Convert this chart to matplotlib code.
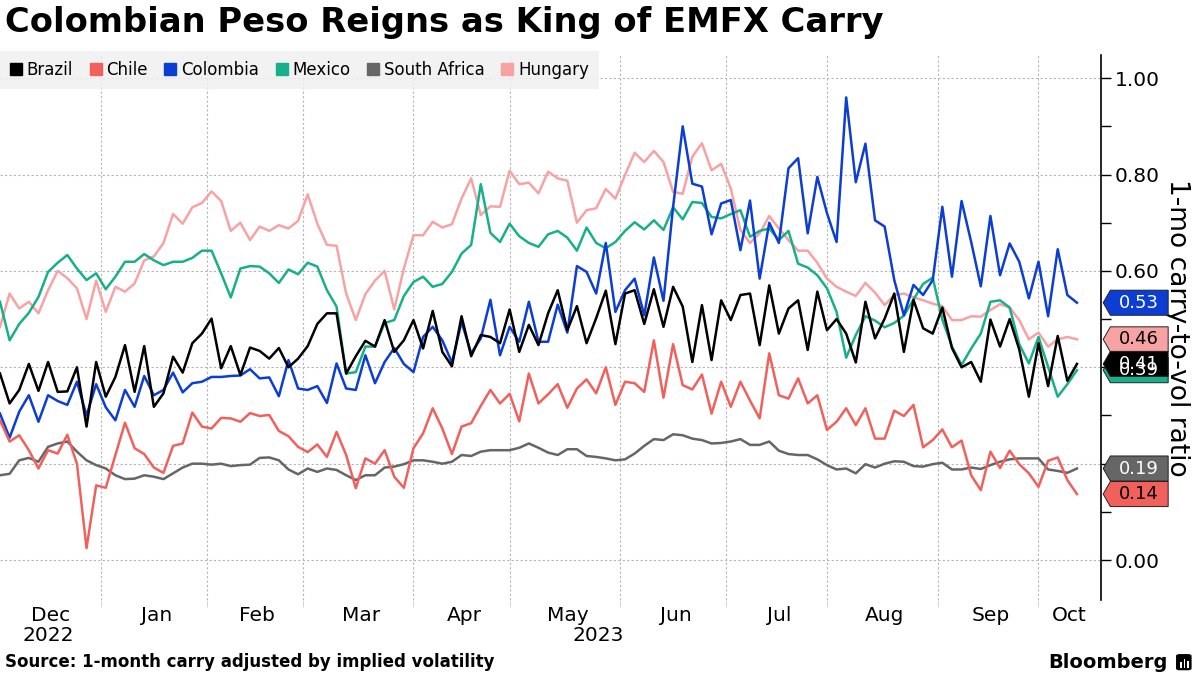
import numpy as np
import pandas as pd
import matplotlib
matplotlib.use("Agg")
import matplotlib.pyplot as plt
import matplotlib.transforms as mtransforms
from matplotlib.lines import Line2D
from matplotlib.patches import Polygon, FancyBboxPatch, Rectangle
from matplotlib.ticker import FormatStrFormatter

# business-day calendar of the chart, values read every second trading day
days = pd.bdate_range("2022-12-01", periods=226)
dates = days[1::2]

brazil = [0.387, 0.325, 0.353, 0.407, 0.351, 0.411, 0.349, 0.35, 0.40, 0.277,
          0.411, 0.339, 0.38, 0.446, 0.349, 0.444, 0.318, 0.346, 0.422, 0.389,
          0.45, 0.47, 0.501, 0.398, 0.444, 0.384, 0.441, 0.434, 0.418, 0.44,
          0.40, 0.418, 0.444, 0.49, 0.512, 0.512, 0.387, 0.423, 0.455,
          0.443, 0.498, 0.432, 0.456, 0.498, 0.439, 0.517, 0.432, 0.402, 0.506,
          0.423, 0.467, 0.463, 0.45, 0.52, 0.432, 0.488, 0.446, 0.512,
          0.56, 0.477, 0.527, 0.45, 0.502, 0.559, 0.448, 0.553, 0.56, 0.49,
          0.562, 0.484, 0.567, 0.526, 0.411, 0.529, 0.415, 0.539,
          0.498, 0.55, 0.553, 0.446, 0.57, 0.47, 0.522, 0.539, 0.436, 0.557,
          0.477, 0.50, 0.47, 0.41, 0.536, 0.46, 0.501, 0.553, 0.432,
          0.54, 0.481, 0.47, 0.524, 0.44, 0.40, 0.411, 0.37, 0.499, 0.443,
          0.50, 0.437, 0.339, 0.45, 0.361, 0.465, 0.372, 0.407]

chile = [0.29, 0.246, 0.259, 0.228, 0.19, 0.228, 0.221, 0.26, 0.20, 0.025,
         0.155, 0.15, 0.218, 0.285, 0.232, 0.22, 0.192, 0.181, 0.237, 0.242,
         0.306, 0.277, 0.273, 0.295, 0.294, 0.287, 0.305, 0.299, 0.301, 0.268,
         0.257, 0.235, 0.224, 0.24, 0.214, 0.266, 0.218, 0.149, 0.211,
         0.2, 0.228, 0.173, 0.15, 0.232, 0.263, 0.315, 0.273, 0.22, 0.277,
         0.284, 0.32, 0.353, 0.325, 0.345, 0.288, 0.387, 0.325, 0.344,
         0.365, 0.316, 0.356, 0.375, 0.346, 0.40, 0.322, 0.37, 0.367, 0.349,
         0.456, 0.337, 0.448, 0.363, 0.354, 0.385, 0.304, 0.37,
         0.318, 0.37, 0.331, 0.294, 0.429, 0.342, 0.335, 0.377, 0.325, 0.342,
         0.27, 0.287, 0.315, 0.28, 0.315, 0.252, 0.252, 0.31, 0.299,
         0.322, 0.234, 0.249, 0.271, 0.234, 0.248, 0.176, 0.145, 0.225, 0.191,
         0.227, 0.199, 0.18, 0.152, 0.206, 0.213, 0.166, 0.137]

colombia = [0.304, 0.254, 0.308, 0.342, 0.287, 0.342, 0.33, 0.322, 0.37, 0.30,
            0.365, 0.317, 0.29, 0.353, 0.318, 0.382, 0.342, 0.353, 0.389, 0.348,
            0.367, 0.37, 0.38, 0.38, 0.382, 0.383, 0.396, 0.377, 0.379, 0.34,
            0.415, 0.356, 0.353, 0.361, 0.326, 0.408, 0.356, 0.353, 0.425,
            0.367, 0.411, 0.44, 0.407, 0.39, 0.463, 0.484, 0.456, 0.41, 0.494,
            0.429, 0.46, 0.54, 0.425, 0.484, 0.453, 0.536, 0.453, 0.453,
            0.53, 0.472, 0.61, 0.598, 0.553, 0.658, 0.515, 0.56, 0.584, 0.508,
            0.628, 0.538, 0.733, 0.90, 0.781, 0.775, 0.676, 0.74,
            0.747, 0.643, 0.746, 0.584, 0.70, 0.658, 0.813, 0.834, 0.678, 0.795,
            0.72, 0.66, 0.96, 0.784, 0.864, 0.705, 0.692, 0.581, 0.508,
            0.571, 0.55, 0.581, 0.733, 0.588, 0.745, 0.66, 0.568, 0.714, 0.591,
            0.657, 0.619, 0.543, 0.619, 0.506, 0.645, 0.55, 0.534]

mexico = [0.536, 0.456, 0.49, 0.513, 0.546, 0.598, 0.617, 0.633, 0.605, 0.581,
          0.595, 0.562, 0.588, 0.619, 0.619, 0.635, 0.622, 0.612, 0.619, 0.619,
          0.627, 0.642, 0.642, 0.595, 0.545, 0.605, 0.61, 0.609, 0.595, 0.575,
          0.603, 0.593, 0.617, 0.609, 0.56, 0.526, 0.387, 0.39, 0.443,
          0.443, 0.492, 0.498, 0.548, 0.577, 0.588, 0.567, 0.573, 0.598, 0.636,
          0.654, 0.78, 0.679, 0.66, 0.698, 0.672, 0.658, 0.65, 0.676,
          0.683, 0.669, 0.642, 0.69, 0.658, 0.647, 0.66, 0.683, 0.701, 0.686,
          0.705, 0.685, 0.732, 0.707, 0.743, 0.741, 0.712, 0.709,
          0.718, 0.726, 0.671, 0.683, 0.688, 0.664, 0.683, 0.615, 0.607, 0.591,
          0.564, 0.515, 0.42, 0.467, 0.506, 0.497, 0.483, 0.492, 0.507,
          0.541, 0.573, 0.586, 0.499, 0.443, 0.405, 0.439, 0.47, 0.536, 0.539,
          0.524, 0.448, 0.408, 0.463, 0.401, 0.339, 0.365, 0.394]

south_africa = [0.176, 0.179, 0.207, 0.212, 0.204, 0.235, 0.242, 0.246, 0.225, 0.207,
                0.197, 0.19, 0.176, 0.168, 0.169, 0.176, 0.173, 0.168, 0.18, 0.192,
                0.2, 0.2, 0.198, 0.2, 0.195, 0.197, 0.198, 0.212, 0.213, 0.207,
                0.188, 0.178, 0.19, 0.183, 0.19, 0.187, 0.176, 0.166, 0.176,
                0.176, 0.192, 0.194, 0.199, 0.207, 0.207, 0.204, 0.2, 0.204, 0.218,
                0.216, 0.225, 0.228, 0.228, 0.228, 0.233, 0.242, 0.233, 0.223,
                0.218, 0.23, 0.23, 0.216, 0.214, 0.211, 0.207, 0.209, 0.221, 0.237,
                0.251, 0.249, 0.261, 0.259, 0.252, 0.249, 0.242, 0.243,
                0.246, 0.251, 0.239, 0.239, 0.246, 0.227, 0.22, 0.218, 0.218, 0.209,
                0.197, 0.188, 0.19, 0.18, 0.199, 0.192, 0.2, 0.205, 0.204,
                0.195, 0.194, 0.199, 0.202, 0.188, 0.188, 0.192, 0.189, 0.197, 0.204,
                0.209, 0.211, 0.211, 0.211, 0.188, 0.185, 0.181, 0.19]

hungary = [0.484, 0.553, 0.522, 0.536, 0.512, 0.56, 0.60, 0.585, 0.564, 0.50,
           0.58, 0.515, 0.567, 0.557, 0.574, 0.622, 0.63, 0.658, 0.718, 0.698,
           0.732, 0.741, 0.765, 0.745, 0.683, 0.70, 0.664, 0.692, 0.683, 0.695,
           0.688, 0.704, 0.759, 0.698, 0.654, 0.652, 0.553, 0.498, 0.552,
           0.58, 0.60, 0.52, 0.605, 0.674, 0.674, 0.702, 0.69, 0.697, 0.75,
           0.792, 0.716, 0.734, 0.733, 0.808, 0.78, 0.783, 0.761, 0.806,
           0.792, 0.787, 0.70, 0.726, 0.73, 0.77, 0.75, 0.799, 0.845, 0.826,
           0.849, 0.826, 0.764, 0.76, 0.837, 0.865, 0.809, 0.822,
           0.771, 0.685, 0.658, 0.678, 0.714, 0.688, 0.664, 0.642, 0.642, 0.617,
           0.584, 0.567, 0.557, 0.548, 0.575, 0.555, 0.529, 0.55, 0.553,
           0.545, 0.539, 0.532, 0.527, 0.498, 0.498, 0.506, 0.505, 0.519, 0.531,
           0.524, 0.498, 0.458, 0.472, 0.443, 0.458, 0.463, 0.458]

names = ["Brazil", "Chile", "Colombia", "Mexico", "South Africa", "Hungary"]
series = [brazil, chile, colombia, mexico, south_africa, hungary]
colors = ["#000000", "#f2605c", "#0c3ed4", "#17b08b", "#666666", "#f8a3a3"]
tag_text = ["white", "black", "white", "white", "white", "black"]
month_labels = ["Dec", "Jan", "Feb", "Mar", "Apr", "May", "Jun", "Jul", "Aug", "Sep", "Oct"]
year_labels = ["2022", "2023"]

pos = days.get_indexer(dates)
month_starts = days.searchsorted(pd.date_range("2022-12-01", "2023-10-01", freq="MS"))
x_end = 230
month_mids = (month_starts + np.append(month_starts[1:], x_end - 1)) / 2 + 0.5
year_start = days.searchsorted(pd.Timestamp("2023-01-01"))

narrow = ["DejaVu Sans Condensed", "Liberation Sans Narrow", "DejaVu Sans"]

fig = plt.figure(figsize=(12, 6.75), dpi=100)
ax = fig.add_axes([0.0, 0.111, 0.9175, 0.8075])

zorders = [8, 7, 6, 5, 4, 3]
for name, vals, col, z in zip(names, series, colors, zorders):
    ax.plot(pos, vals, color=col, lw=1.8, zorder=z, solid_joinstyle="round")

ax.set_xlim(pos[0], x_end)
ax.set_ylim(-0.083, 1.048)

# y axis on the right
ax.yaxis.tick_right()
ax.set_yticks(np.arange(0, 1.01, 0.2))
ax.set_yticks(np.arange(0.1, 1.0, 0.2), minor=True)
ax.yaxis.set_major_formatter(FormatStrFormatter("%.2f"))
ax.tick_params(axis="y", which="major", length=7, width=1, labelsize=14.5, pad=3)
ax.tick_params(axis="y", which="minor", length=7, width=1)
for s in ["top", "left", "bottom"]:
    ax.spines[s].set_visible(False)
ax.spines["right"].set_linewidth(1.2)
ax.grid(axis="y", which="major", ls=(0, (2, 2)), color="#b5b5b5", lw=0.8)

# x axis: month names mid-month, gridlines at month starts
ax.set_xticks(month_starts[1:], minor=True)
ax.set_xticks(month_mids)
ax.set_xticklabels(month_labels, fontsize=14.5, family=narrow)
ax.tick_params(axis="x", which="major", length=0, pad=4)
ax.tick_params(axis="x", which="minor", length=5, color="#cccccc")
ax.grid(axis="x", which="minor", ls=(0, (2, 2)), color="#b5b5b5", lw=0.8)

blend = mtransforms.blended_transform_factory(ax.transData, ax.transAxes)
for lab, x0, x1 in zip(year_labels, [pos[0], year_start], [year_start, x_end]):
    ax.text((x0 + x1) / 2 - 0.5, -0.065, lab, transform=blend, ha="center", va="center",
            fontsize=14.5, family=narrow)

ax.yaxis.set_label_position("right")
ax.set_ylabel("1-mo carry-to-vol ratio", rotation=270, fontsize=19, labelpad=22)

# value tags at the right edge
tblend = mtransforms.blended_transform_factory(ax.transAxes, ax.transData)
h = 0.026
tag_order = [3, 5, 0, 2, 4, 1]
for i in tag_order:
    v = series[i][-1]
    poly = Polygon([(1.002, v), (1.0085, v + h), (1.061, v + h), (1.061, v - h), (1.0085, v - h)],
                   closed=True, transform=tblend, facecolor=colors[i], edgecolor="#222222",
                   lw=0.7, clip_on=False, zorder=20)
    ax.add_patch(poly)
    ax.text(1.0345, v, f"{v:.2f}", transform=tblend, ha="center", va="center",
            color=tag_text[i], fontsize=13, clip_on=False, zorder=21)

# legend
handles = [Line2D([], [], ls="none", marker="s", markersize=9, color=c) for c in colors]
leg = fig.legend(handles, names, loc="upper left", bbox_to_anchor=(0.0, 0.924), ncol=6,
                 frameon=True, fancybox=False, fontsize=12, handlelength=0.7,
                 handletextpad=0.3, columnspacing=1.0, borderpad=0.6,
                 borderaxespad=0.0)
leg.get_frame().set_facecolor("#f0f0f0")
leg.get_frame().set_edgecolor("none")
leg.get_frame().set_alpha(0.85)

fig.text(0.004, 0.967, "Colombian Peso Reigns as King of EMFX Carry", fontsize=24.3,
         fontweight="bold", ha="left", va="center")
fig.text(0.004, 0.019, "Source: 1-month carry adjusted by implied volatility", fontsize=12,
         fontweight="bold", ha="left", va="center")
fig.text(0.973, 0.019, "Bloomberg", fontsize=14, fontweight="bold", ha="right", va="center")
fig.patches.append(FancyBboxPatch((0.980, 0.007), 0.013, 0.024,
                                  boxstyle="round,pad=0.0,rounding_size=0.003",
                                  transform=fig.transFigure, facecolor="black", edgecolor="none"))
for bx, bh in zip([0.9835, 0.9865, 0.9895], [0.008, 0.012, 0.010]):
    fig.patches.append(Rectangle((bx, 0.011), 0.0014, bh, transform=fig.transFigure,
                                 facecolor="white", edgecolor="none"))

fig.savefig("out.png", dpi=100)
